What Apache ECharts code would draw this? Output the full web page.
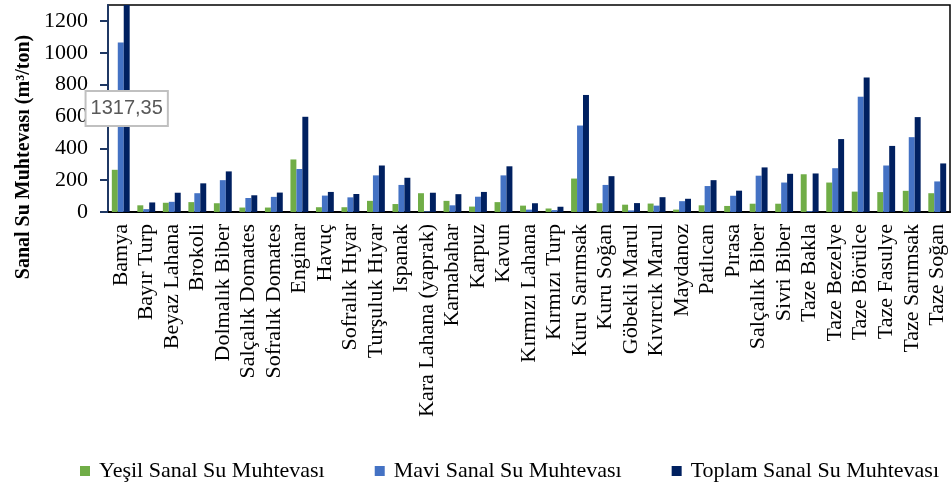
<!DOCTYPE html>
<html>
<head>
<meta charset="utf-8">
<script src="https://cdn.jsdelivr.net/npm/echarts@6/dist/echarts.min.js"></script>
<style>
  html, body { margin: 0; padding: 0; background: #fff; }
  #main { width: 952px; height: 486px; }
</style>
</head>
<body>
<div id="main"></div>
<script>
// kategoriler
var categories = ['Bamya', 'Bayır Turp', 'Beyaz Lahana', 'Brokoli', 'Dolmalık Biber', 'Salçalık Domates',
    'Sofralık Domates', 'Enginar', 'Havuç', 'Sofralık Hıyar', 'Turşuluk Hıyar', 'Ispanak',
    'Kara Lahana (yaprak)', 'Karnabahar', 'Karpuz', 'Kavun', 'Kırmızı Lahana', 'Kırmızı Turp',
    'Kuru Sarımsak', 'Kuru Soğan', 'Göbekli Marul', 'Kıvırcık Marul', 'Maydanoz', 'Patlıcan',
    'Pırasa', 'Salçalık Biber', 'Sivri Biber', 'Taze Bakla', 'Taze Bezelye', 'Taze Börülce',
    'Taze Fasulye', 'Taze Sarımsak', 'Taze Soğan'];

var yesil = [265, 42, 58, 62, 55, 28, 28, 330, 30, 30, 70, 50, 118, 70, 34, 62, 40, 22,
    210, 55, 46, 53, 15, 42, 38, 52, 52, 237, 185, 128, 125, 133, 118];
var mavi = [1065, 18, 64, 118, 200, 88, 95, 270, 103, 92, 230, 170, 4, 42, 96, 230, 15, 12,
    543, 170, 10, 40, 68, 163, 102, 228, 185, 5, 275, 724, 292, 470, 192];
var toplam = [1317.35, 60, 121, 180, 255, 105, 122, 598, 126, 113, 292, 215, 121, 112, 126, 287, 55, 33,
    735, 225, 56, 93, 83, 200, 134, 280, 240, 242, 458, 844, 415, 596, 305];

var yTicks = [0, 200, 400, 600, 800, 1000, 1200];
var seriesNames = ['Yeşil Sanal Su Muhtevası', 'Mavi Sanal Su Muhtevası', 'Toplam Sanal Su Muhtevası'];

var serif = 'Liberation Serif';

// Bamya toplam değeri grafiğin dışına taşıyor, etiketi ile gösteriliyor
var toplamData = toplam.map(function (v, i) {
    if (i === 0) {
        return {
            value: v,
            label: {
                show: true,
                position: 'inside',
                formatter: '1317,35',
                fontFamily: 'Liberation Sans',
                fontSize: 20,
                color: '#595959',
                backgroundColor: '#fff',
                borderColor: '#c0c0c0',
                borderWidth: 2,
                padding: [7, 4, 6, 4]
            }
        };
    }
    return v;
});

var chart = echarts.init(document.getElementById('main'));
var option = {
    animation: false,
    color: ['#70ad47', '#4472c4', '#002060'],
    grid: {
        left: 108, right: 2, top: 5, bottom: 274,
        show: true, borderColor: '#000', borderWidth: 1.5
    },
    legend: {
        data: seriesNames,
        left: 75,
        top: 455,
        icon: 'rect',
        itemWidth: 10,
        itemHeight: 10,
        itemGap: 50,
        textStyle: { fontFamily: serif, fontSize: 22, color: '#000', padding: [0, 0, 0, 4] }
    },
    graphic: [{
        type: 'text',
        x: 24,
        y: 157,
        rotation: Math.PI / 2,
        style: {
            text: 'Sanal Su Muhtevası (m³/ton)',
            fontFamily: serif,
            fontSize: 20,
            fontWeight: 'bold',
            fill: '#000',
            align: 'center',
            verticalAlign: 'middle'
        }
    }],
    xAxis: {
        type: 'category',
        data: categories,
        axisLine: { lineStyle: { color: '#000', width: 2 } },
        axisTick: { show: false },
        axisLabel: {
            interval: 0,
            rotate: 90,
            margin: 12,
            fontFamily: serif,
            fontSize: 22,
            color: '#000'
        }
    },
    yAxis: {
        type: 'value',
        min: 0,
        max: 1300,
        interval: 200,
        splitLine: { show: false },
        axisLine: { show: true, lineStyle: { color: '#1f3864', width: 2 } },
        axisTick: { show: true, length: 8, lineStyle: { color: '#1f3864', width: 2 }, customValues: yTicks },
        axisLabel: {
            margin: 20,
            fontFamily: serif,
            fontSize: 22,
            color: '#000',
            customValues: yTicks,
            formatter: function (v) { return String(v); }
        }
    },
    series: [
        { name: seriesNames[0], type: 'bar', data: yesil, barGap: '0%', barCategoryGap: '30%' },
        { name: seriesNames[1], type: 'bar', data: mavi, barGap: '0%', barCategoryGap: '30%' },
        { name: seriesNames[2], type: 'bar', data: toplamData, barGap: '0%', barCategoryGap: '30%', clip: true }
    ]
};
chart.setOption(option);
</script>
</body>
</html>
